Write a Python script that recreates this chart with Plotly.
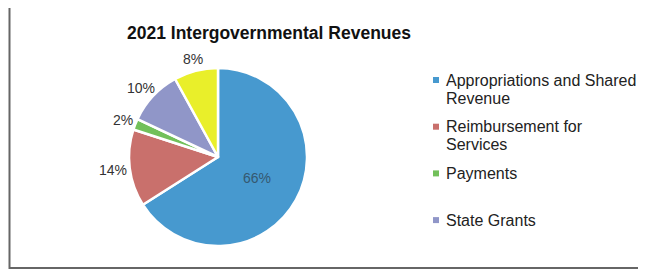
import math
import plotly.graph_objects as go

title = "2021 Intergovernmental Revenues"
labels = ["Appropriations and Shared Revenue", "Reimbursement for Services",
          "Payments", "State Grants", "Other"]
legend_lines = [["Appropriations and Shared", "Revenue"],
                ["Reimbursement for", "Services"],
                ["Payments"], ["State Grants"]]
values = [66, 14, 2, 10, 8]
colors = ["#4799cf", "#c9706c", "#72c05a", "#9096c8", "#e9ef2a"]

# page body has an 8px margin: work in window pixels, convert with offset
OFF = 8
W, H = 646 - OFF, 271 - OFF


def px(x):
    return (x - OFF) / W


def py(y):
    return 1 - (y - OFF) / H


FONT = "Liberation Sans, Arial"
cx, cy, R = 218, 157, 89  # pie layout in window pixels

fig = go.Figure(go.Pie(
    labels=labels, values=values, sort=False, direction="clockwise",
    marker=dict(colors=colors, line=dict(color="white", width=2.5)),
    textinfo="none", showlegend=False, hoverinfo="label+percent",
    domain=dict(x=[px(cx - R), px(cx + R)], y=[py(cy + R), py(cy - R)]),
))

# percentage labels, placed from slice mid-angles
total = sum(values)
cum = 0
for i, v in enumerate(values):
    mid = (cum + v / 2) / total
    cum += v
    th = 2 * math.pi * mid
    s, c = math.sin(th), math.cos(th)
    txt = f"{round(100 * v / total)}%"
    if i == 0:
        x, y = cx + 0.5 * R * s, cy - 0.5 * R * c
    else:
        w = 7.8 * len(txt)
        x = cx + (R + 5 + w / 2) * s
        y = cy - (R + 5 + 7) * c
    fig.add_annotation(x=px(x), y=py(y), xref="paper", yref="paper",
                       xanchor="center", yanchor="middle",
                       text=txt, showarrow=False,
                       font=dict(family=FONT, size=14,
                                 color="#333" if i else "#35586f"))

# legend drawn manually (last entry clipped by frame in the original)
lx, ly0, step, lstep = 433, 80, 46.7, 18
for i, lines in enumerate(legend_lines):
    y = ly0 + i * step
    fig.add_shape(type="rect", xref="paper", yref="paper",
                  x0=px(lx), x1=px(lx + 6), y0=py(y + 3), y1=py(y - 3),
                  fillcolor=colors[i], line=dict(width=0))
    for j, t in enumerate(lines):
        fig.add_annotation(x=px(lx + 11), y=py(y + j * lstep), xref="paper",
                           yref="paper", xanchor="left", yanchor="middle",
                           showarrow=False, text=t,
                           font=dict(family=FONT, size=16, color="#222"))

# frame
fig.add_shape(type="rect", xref="paper", yref="paper",
              x0=px(9.5), x1=px(642.5), y0=py(268), y1=py(6),
              line=dict(color="#666", width=2), fillcolor="rgba(0,0,0,0)")

fig.update_layout(
    width=W, height=H, margin=dict(l=0, r=0, t=0, b=0),
    paper_bgcolor="white", plot_bgcolor="white",
    title=dict(text=f"<b>{title}</b>", x=px(269), xanchor="center",
               y=py(33), yanchor="middle",
               font=dict(family=FONT, size=17.5, color="#111")),
)

fig.write_html("out.html")
